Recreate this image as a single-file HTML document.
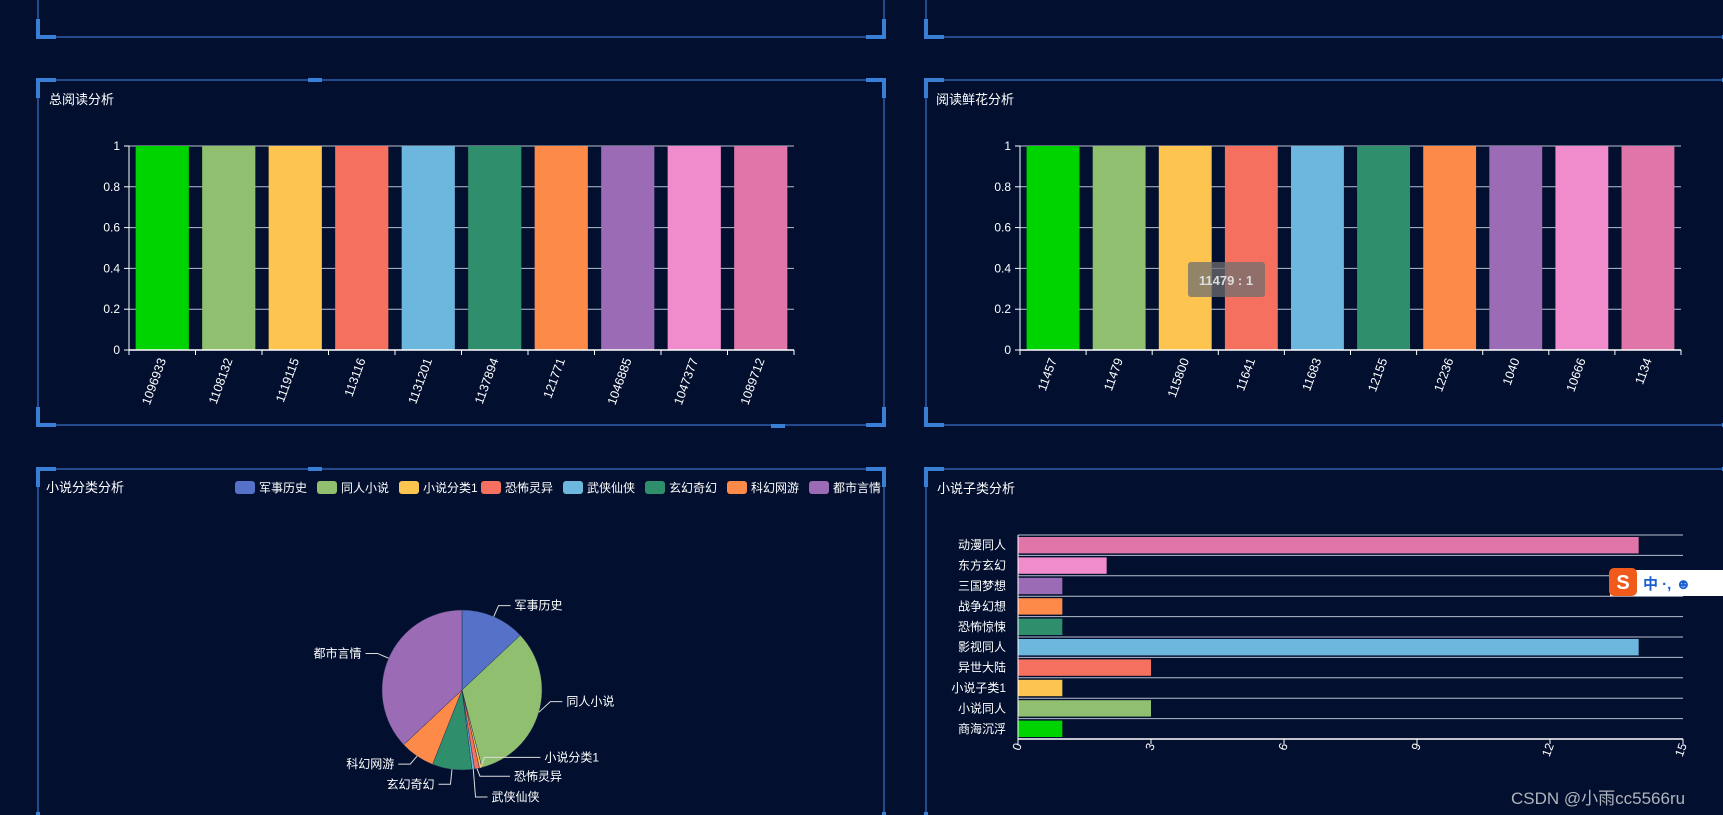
<!DOCTYPE html>
<html><head><meta charset="utf-8"><style>
html,body{margin:0;padding:0;background:#020f2e;}
body{width:1723px;height:815px;overflow:hidden;position:relative;font-family:"Liberation Sans","Noto Sans CJK SC",sans-serif;}
svg{position:absolute;left:0;top:0}
</style></head><body>
<svg id="s" width="1723" height="815" xmlns="http://www.w3.org/2000/svg" font-family="Liberation Sans, Noto Sans CJK SC, sans-serif"></svg>
<script>
const readCats=['1096933','1108132','1119115','113116','1131201','1137894','121771','1046885','1047377','1089712'];
const readVals=[1,1,1,1,1,1,1,1,1,1];
const flowerCats=['11457','11479','115800','11641','11683','12155','12236','1040','10666','1134'];
const flowerVals=[1,1,1,1,1,1,1,1,1,1];
const yTicks=[0,0.2,0.4,0.6,0.8,1];
const pieNames=['军事历史','同人小说','小说分类1','恐怖灵异','武侠仙侠','玄幻奇幻','科幻网游','都市言情'];
const pieVals=[26,66,1,2,1,16,14,74];
const subCats=['动漫同人','东方玄幻','三国梦想','战争幻想','恐怖惊悚','影视同人','异世大陆','小说子类1','小说同人','商海沉浮'];
const subVals=[14,2,1,1,1,14,3,1,3,1];
const xTicks=[0,3,6,9,12,15];
const barColors=['#00d400','#8fbf6f','#fdc54f','#f6705f','#6bb7dd','#2f8f6d','#fe8a4a','#9b6bb5','#f08bcc','#e075aa'];
const pieColors=['#5572c8','#8fbf6f','#fdc54f','#f6705f','#6bb7dd','#2f8f6d','#fe8a4a','#9b6bb5'];
const subColors=['#e075aa','#f08bcc','#9b6bb5','#fe8a4a','#2f8f6d','#6bb7dd','#f6705f','#fdc54f','#8fbf6f','#00d400'];
const S=document.getElementById('s');const NS='http://www.w3.org/2000/svg';
function mk(t,a,p){const e=document.createElementNS(NS,t);for(const k in a)e.setAttribute(k,a[k]);(p||S).appendChild(e);return e;}
function txt(x,y,s,a,p){const e=mk('text',Object.assign({x:x,y:y,fill:'#fff','font-size':12},a||{}),p);e.textContent=s;return e;}
function panel(x1,y1,x2,y2,name){
  const g=mk('g',{});
  
  
  mk('rect',{x:x1,y:y1,width:x2-x1,height:y2-y1,fill:'none',stroke:'#2f5fae','stroke-width':1.5},g);
  const c='#3a7fd6';
  [[x1,y1,1,1],[x2,y1,-1,1],[x1,y2,1,-1],[x2,y2,-1,-1]].forEach(p=>{
    mk('path',{d:`M${p[0]} ${p[1]+p[3]*18}V${p[1]}H${p[0]+p[2]*18}`,fill:'none',stroke:c,'stroke-width':4},g);
  });
  return g;
}
panel(38,-20,884,37,'top-left-panel');
panel(926,-20,1740,37,'top-right-panel');
panel(38,80,884,425,'total-read-panel');
panel(926,80,1740,425,'flower-panel');
panel(38,469,884,830,'category-panel');
panel(926,469,1740,830,'subcategory-panel');
mk('rect',{x:308,y:78,width:14,height:4,fill:'#3a7fd6'});mk('rect',{x:771,y:424,width:14,height:4,fill:'#3a7fd6'});
mk('rect',{x:308,y:467,width:14,height:4,fill:'#3a7fd6'});

function vbar(title,tx,x0,x1,cats,vals){
  const g=mk('g',{});
  
  
  const t=txt(tx,104,title,{'font-size':13},g);
  
  
  const y0=350,y1=146;const ys=v=>y0-(v/1)*(y0-y1);const bw=(x1-x0)/cats.length;
  yTicks.forEach(v=>{mk('line',{x1:x0,x2:x1,y1:ys(v),y2:ys(v),stroke:'#b8bfd0','stroke-width':1},g);
    mk('line',{x1:x0-5,x2:x0,y1:ys(v),y2:ys(v),stroke:'#fff'},g);
    const l=txt(x0-9,ys(v)+4,String(v),{'text-anchor':'end'},g);
    
    });
  cats.forEach((c,i)=>{
    const r=mk('rect',{x:x0+i*bw+bw*0.1,y:ys(vals[i]),width:bw*0.8,height:y0-ys(vals[i]),fill:barColors[i]},g);
    
    
    const cx=x0+(i+0.5)*bw;
    const l=txt(0,0,c,{'text-anchor':'end',transform:`translate(${cx+4},${y0+10}) rotate(-70)`,'font-size':12.5},g);
    
    
  });
  for(let i=0;i<=cats.length;i++)mk('line',{x1:x0+i*bw,x2:x0+i*bw,y1:y0,y2:y0+5,stroke:'#fff'},g);
  mk('line',{x1:x0,x2:x1,y1:y0,y2:y0,stroke:'#fff','stroke-width':1.5},g);
  mk('line',{x1:x0,x2:x0,y1:y1,y2:y0,stroke:'#fff','stroke-width':1},g);
}
vbar('总阅读分析',49,129,794,readCats,readVals);
vbar('阅读鲜花分析',936,1020,1681,flowerCats,flowerVals);
// tooltip
const tg=mk('g',{});


mk('rect',{x:1188,y:262,width:77,height:35,rx:3,fill:'rgba(110,110,110,0.75)'},tg);
txt(1226,285,'11479 : 1',{'text-anchor':'middle','font-size':13,fill:'#ddd','font-weight':'bold'},tg);

// pie
const pg=mk('g',{});


const pt=txt(46,492,'小说分类分析',{'font-size':13},pg);


pieNames.forEach((n,i)=>{const lx=235+i*82;
  const le=mk('g',{},pg);
  
  
  mk('rect',{x:lx,y:481,width:20,height:13,rx:3,fill:pieColors[i]},le);
  txt(lx+24,492,n,{},le);});
const cx=462,cy=690,R=80;const tot=pieVals.reduce((a,b)=>a+b,0);let a0=0;
const labelShift=[0,-14,-26,-8,12,3,-2,0];
const labelExt=[0,0,44,18,0,0,0,0];
pieVals.forEach((v,i)=>{const a1=a0+v/tot*2*Math.PI;
  const nm=pieNames[i];
  const sx=cx+R*Math.sin(a0),sy=cy-R*Math.cos(a0),ex=cx+R*Math.sin(a1),ey=cy-R*Math.cos(a1);
  const sl=mk('path',{d:`M${cx} ${cy}L${sx} ${sy}A${R} ${R} 0 ${a1-a0>Math.PI?1:0} 1 ${ex} ${ey}Z`,fill:pieColors[i],stroke:'#22304f','stroke-width':0.5},pg);
  
  
  const am=(a0+a1)/2;const mx=cx+R*Math.sin(am),my=cy-R*Math.cos(am);
  const k=(i>=2&&i<=4)?1.2:1.15;
  const bx=cx+R*k*Math.sin(am),by=cy-R*k*Math.cos(am)+labelShift[i];
  const right=Math.sin(am)>=0 || i===4;const hx=bx+(right?12+labelExt[i]:-12);
  mk('polyline',{points:`${mx},${my} ${bx},${by} ${hx},${by}`,fill:'none',stroke:'#ddd','stroke-width':1},pg);
  const l=txt(hx+(right?4:-4),by+4,nm,{'text-anchor':right?'start':'end'},pg);
  
  
  a0=a1;});

// horizontal bars
const hg=mk('g',{});


const ht=txt(937,493,'小说子类分析',{'font-size':13},hg);


const hx0=1018,hx1=1683,hy0=535,hy1=739;const xs=v=>hx0+v/15*(hx1-hx0);const bh=(hy1-hy0)/subCats.length;
for(let i=0;i<=subCats.length;i++)mk('line',{x1:hx0,x2:hx1,y1:hy0+i*bh,y2:hy0+i*bh,stroke:i==subCats.length?'#fff':'#b8bfd0','stroke-width':i==subCats.length?1.5:1},hg);
subCats.forEach((c,i)=>{const y=hy0+i*bh;
  const r=mk('rect',{x:hx0,y:y+2,width:xs(subVals[i])-hx0,height:bh-4,fill:subColors[i]},hg);
  
  
  const l=txt(1006,y+bh/2+4,c,{'text-anchor':'end'},hg);
  
  });
mk('line',{x1:hx0,x2:hx0,y1:hy0,y2:hy1,stroke:'#fff'},hg);
xTicks.forEach(v=>{mk('line',{x1:xs(v),x2:xs(v),y1:hy1,y2:hy1+5,stroke:'#fff'},hg);
  const l=txt(0,0,String(v),{'text-anchor':'end',transform:`translate(${xs(v)+4},${hy1+6}) rotate(-70)`,'font-size':12},hg);
  
  });
// IME widget
const ime=mk('g',{});


mk('rect',{x:1610,y:570,width:113,height:26,fill:'#fff'},ime);
mk('rect',{x:1609,y:568,width:28,height:28,rx:5,fill:'#f05a1a'},ime);
txt(1623,589,'S',{'text-anchor':'middle','font-size':20,'font-weight':'bold'},ime);
txt(1643,589,'中 ·, ☻',{'font-size':15,fill:'#1a5fd0','font-weight':'bold'},ime);
const wm=txt(1511,804,'CSDN @小雨cc5566ru',{'font-size':17,fill:'#b0b4bc'});


</script>
</body></html>
